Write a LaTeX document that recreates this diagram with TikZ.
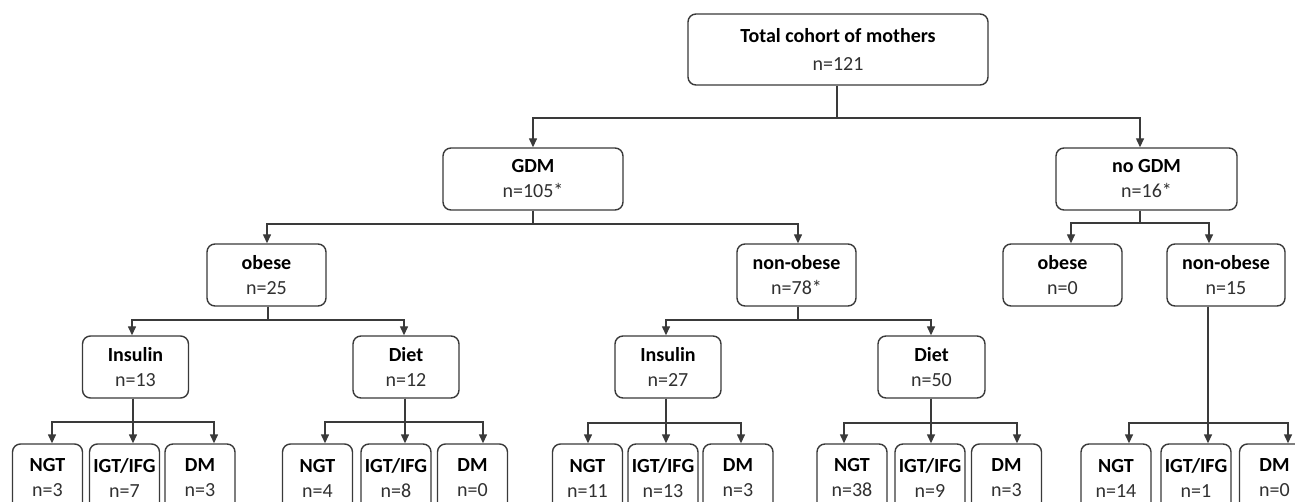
\documentclass[tikz,border=0pt]{standalone}
\usepackage{fontspec}
\setmainfont{Carlito}
\usetikzlibrary{arrows.meta}
\definecolor{linec}{HTML}{3A3A3A}
\definecolor{numc}{HTML}{303030}
\tikzset{
 box/.style={draw=linec, rounded corners=8pt, line width=1.4pt, inner sep=0pt, align=center,
   font=\fontsize{20}{25}\selectfont, minimum height=62pt},
 leaf/.style={box, minimum width=70pt, minimum height=68pt},
 conn/.style={draw=linec, line width=1.4pt},
 arr/.style={conn, -{Triangle[width=8pt,length=9pt]}},
}
\newcommand\bx[2]{\textbf{#1}\\{\color{numc}#2}}
\newcommand\link[5]{\draw[arr] (#1.south -| #2,0) -- (#2,#3) -| (#4.north -| #5,0);}
\begin{document}
\begin{tikzpicture}[x=1pt,y=-1pt]
\clip (0,0) rectangle (1295,502);
\fill[white] (0,0) rectangle (1295,502);
% level 0
\node[box, minimum width=300pt, minimum height=71pt] (top) at (838,49.5) {\textbf{Total cohort of mothers}\\[3pt]{\color{numc}n=121}};
% level 1
\node[box, minimum width=180pt] (gdm) at (533,179) {\bx{GDM}{n=105*}};
\node[box, minimum width=181pt] (nogdm) at (1146.5,179) {\bx{no GDM}{n=16*}};
% level 2
\node[box, minimum width=119pt] (ob1) at (266.5,275) {\bx{obese}{n=25}};
\node[box, minimum width=119pt] (no1) at (796.5,275) {\bx{non-obese}{n=78*}};
\node[box, minimum width=119pt] (ob2) at (1062.5,275) {\bx{obese}{n=0}};
\node[box, minimum width=118pt] (no2) at (1226,275) {\bx{non-obese}{n=15}};
% level 3
\node[box, minimum width=106pt] (ins1) at (135.5,367) {\bx{Insulin}{n=13}};
\node[box, minimum width=106pt] (diet1) at (406,367) {\bx{Diet}{n=12}};
\node[box, minimum width=106pt] (ins2) at (668,367) {\bx{Insulin}{n=27}};
\node[box, minimum width=107pt] (diet2) at (931.5,367) {\bx{Diet}{n=50}};
% leaves
\node[leaf] (a1) at (47.5,478) {\bx{NGT}{n=3}};
\node[leaf] (b1) at (124.5,478) {\bx{IGT/IFG}{n=7}};
\node[leaf] (c1) at (200,478) {\bx{DM}{n=3}};
\node[leaf] (a2) at (317.5,478) {\bx{NGT}{n=4}};
\node[leaf] (b2) at (396,478) {\bx{IGT/IFG}{n=8}};
\node[leaf] (c2) at (472.5,478) {\bx{DM}{n=0}};
\node[leaf] (a3) at (587.5,478) {\bx{NGT}{n=11}};
\node[leaf] (b3) at (663,478) {\bx{IGT/IFG}{n=13}};
\node[leaf] (c3) at (738,478) {\bx{DM}{n=3}};
\node[leaf] (a4) at (852,478) {\bx{NGT}{n=38}};
\node[leaf] (b4) at (930,478) {\bx{IGT/IFG}{n=9}};
\node[leaf] (c4) at (1006.5,478) {\bx{DM}{n=3}};
\node[leaf] (a5) at (1116,478) {\bx{NGT}{n=14}};
\node[leaf] (b5) at (1196,478) {\bx{IGT/IFG}{n=1}};
\node[leaf] (c5) at (1274.5,478) {\bx{DM}{n=0}};
% connectors
\link{top}{837}{118}{gdm}{533}
\link{top}{837}{118}{nogdm}{1140}
\link{gdm}{533}{224}{ob1}{267}
\link{gdm}{533}{224}{no1}{798}
\link{nogdm}{1140}{223}{ob2}{1071}
\link{nogdm}{1140}{223}{no2}{1209}
\link{ob1}{268}{320}{ins1}{132}
\link{ob1}{268}{320}{diet1}{404}
\link{no1}{798}{320}{ins2}{666}
\link{no1}{798}{320}{diet2}{931}
\link{ins1}{133}{422}{a1}{52}
\link{ins1}{133}{422}{b1}{133}
\link{ins1}{133}{422}{c1}{214}
\link{diet1}{405}{422}{a2}{325}
\link{diet1}{405}{422}{b2}{405}
\link{diet1}{405}{422}{c2}{483}
\link{ins2}{666}{423}{a3}{588}
\link{ins2}{666}{423}{b3}{666}
\link{ins2}{666}{423}{c3}{741}
\link{diet2}{931}{423}{a4}{844}
\link{diet2}{931}{423}{b4}{931}
\link{diet2}{931}{423}{c4}{1017}
\link{no2}{1208}{423}{a5}{1129}
\link{no2}{1208}{423}{b5}{1208}
\link{no2}{1208}{423}{c5}{1288}
\end{tikzpicture}
\end{document}
